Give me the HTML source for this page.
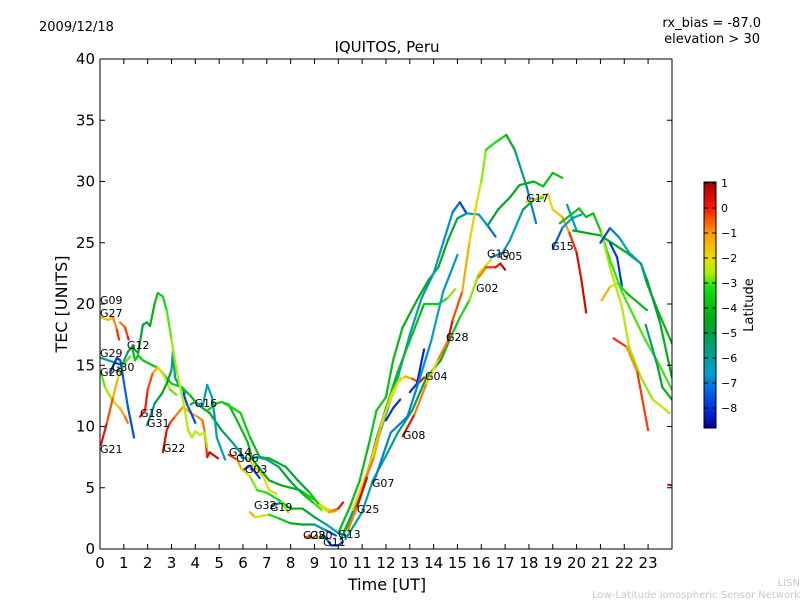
<!DOCTYPE html>
<html><head><meta charset="utf-8"><style>
body{margin:0;background:#fff;}
svg{display:block;font-family:"DejaVu Sans","Liberation Sans",sans-serif;}
</style></head><body>
<svg id="chart" width="800" height="600" viewBox="0 0 800 600">
<defs>
<linearGradient id="cmap" x1="0" y1="0" x2="0" y2="1">
<stop offset="0" stop-color="#a00000"/><stop offset="0.107" stop-color="#ff1a00"/>
<stop offset="0.208" stop-color="#ff9a00"/><stop offset="0.310" stop-color="#e8e000"/>
<stop offset="0.371" stop-color="#a8f000"/><stop offset="0.432" stop-color="#10e010"/>
<stop offset="0.543" stop-color="#00b010"/><stop offset="0.614" stop-color="#00a040"/>
<stop offset="0.716" stop-color="#00a0a0"/><stop offset="0.777" stop-color="#00a0c8"/>
<stop offset="0.838" stop-color="#0070e0"/><stop offset="0.919" stop-color="#0030e0"/>
<stop offset="1" stop-color="#000090"/>
</linearGradient>
<clipPath id="pc"><rect x="100" y="59" width="572" height="490"/></clipPath>
</defs>
<text x="39" y="31" font-size="13">2009/12/18</text>
<text x="761" y="27" font-size="13" text-anchor="end">rx_bias = -87.0</text>
<text x="760" y="43" font-size="13" text-anchor="end">elevation &gt; 30</text>
<text x="387" y="52" font-size="15" text-anchor="middle">IQUITOS, Peru</text>
<g id="marks" clip-path="url(#pc)"></g>
<g id="labels"></g>
<rect x="100" y="59" width="572" height="490" fill="none" stroke="#000" stroke-width="1"/>
<g id="axes"></g>
<text x="387" y="590" font-size="16" text-anchor="middle">Time [UT]</text>
<text transform="translate(67,304) rotate(-90)" font-size="16" text-anchor="middle">TEC [UNITS]</text>
<rect x="704" y="182" width="12" height="246" fill="url(#cmap)" stroke="#000" stroke-width="1"/>
<g id="cbticks"></g>
<text transform="translate(753,305) rotate(-90)" font-size="13" text-anchor="middle">Latitude</text>
<text x="800" y="586" font-size="10" fill="#c8c8c8" text-anchor="end">LISN</text>
<text x="800" y="598" font-size="10" fill="#c8c8c8" text-anchor="end">Low-Latitude Ionospheric Sensor Network</text>
</svg>
<script>
const xTicks=[0,1,2,3,4,5,6,7,8,9,10,11,12,13,14,15,16,17,18,19,20,21,22,23];
const yTicks=[0,5,10,15,20,25,30,35,40];
const cbTicks=[1,0,-1,-2,-3,-4,-5,-6,-7,-8];
// track points: [hour, TEC, latitude]
const g27=[[0.04,18.9,-1.8],[0.34,18.7,-1.5],[0.55,18.9,-1.2],[0.71,17.9,-0.5],[0.8,17.1,0.3]];
const g09=[[0.84,18.5,-0.8],[1.05,18.1,-0.5],[1.17,17.3,0],[1.2,17.1,0.3]];
const g29=[[0.04,15.6,-6],[0.5,15.3,-6.2],[0.92,15,-6],[1.17,16.1,-5.5],[1.34,16.5,-4],[1.47,15.4,-3.8],[1.6,15.8,-3.8],[1.8,15.4,-3.8],[2.2,15,-3.7],[2.43,14.8,-3.8],[3.0,13.5,-3.8],[3.44,13.2,-3.5],[3.8,12.5,-4],[4.1,11.8,-4.2],[4.6,11.1,-4.5],[5.1,9.7,-5],[5.6,8.6,-5.8],[6.0,7.6,-6.5]];
const g12=[[1.34,16.5,-4.5],[1.6,16,-4.5],[1.8,18.3,-4.8],[1.97,18.5,-4.5],[2.1,18.2,-4.5],[2.3,20.1,-4],[2.43,20.9,-3.8],[2.64,20.6,-3.5],[2.8,19.5,-3.2],[3.0,17.1,-2.7],[3.23,14.4,-2.6],[3.48,12.2,-2.5],[3.7,9.7,-2.5],[3.86,9.1,-2.6],[4.0,9.6,-2.4],[4.2,9.3,-2.3],[4.4,9.5,-2.5],[4.5,8.3,-2.6]];
const g26=[[0.04,14.4,-3],[0.21,13.2,-2.8],[0.5,12.2,-2.5],[0.63,11.9,-2],[0.84,11.5,-1.5],[1.05,10.8,-0.8],[1.17,10.3,-0.5]];
const g21=[[0.04,8.5,0.5],[0.29,10.3,0],[0.55,12.4,-0.8],[0.76,14,-1.8],[1.05,15.2,-2.6],[1.26,15.7,-3.2]];
const g30=[[0.42,14.4,-8],[0.71,15.6,-8],[0.85,15.4,-7.8],[0.97,14,-7.5],[1.17,11.6,-7.2],[1.43,9.1,-8]];
const g18=[[1.68,10.8,0.5],[1.89,11.3,0.2],[2.0,13,0],[2.22,14.4,-0.7],[2.43,14.8,-1.6],[2.73,14,-2.4],[2.94,13,-2.8],[3.2,12.6,-3]];
const g31=[[1.97,10.1,-6.5],[2.3,11.9,-5.5],[2.6,12.7,-4.5],[2.8,13.5,-4.5],[3.0,14.6,-5.5],[3.06,16.1,-6],[3.15,14,-6],[3.27,13.5,-6],[3.57,12.7,-6.5]];
const g22=[[2.64,7.9,0.5],[2.8,9.7,0.3],[2.94,10.3,0],[3.15,10.8,-0.5],[3.44,11.5,-1],[3.5,11.6,-1],[3.8,11.1,-1.3],[4.1,10.8,-1],[4.3,10.5,-0.8],[4.4,9.5,-0.5],[4.5,7.5,0.3],[4.6,7.9,0.5],[4.95,7.4,0.5]];
const g16b=[[3.5,12.7,-8],[3.65,11.8,-7.6],[3.8,11.2,-7.4],[4.0,10.3,-8]];
const g16t=[[3.8,11.8,-6],[4.0,12,-6],[4.3,11.6,-6],[4.5,13.4,-6.5],[4.7,12.4,-6.5],[4.8,11,-6],[4.9,9.1,-6],[5.25,7.3,-7]];
const g16=[[4.5,11.3,-4],[4.9,11.9,-3.5],[5.1,12,-3.5],[5.4,11.8,-4],[5.75,10.5,-4],[6.2,8.7,-4],[6.4,7.3,-4.3],[7.1,5.6,-4.5],[7.6,5.2,-4.5],[8.4,4.8,-4.3],[9.0,4.0,-3],[9.4,3.4,-2],[9.7,3.1,-1.2],[10.0,3.3,0],[10.2,3.8,0.5]];
const g16c=[[5.1,12,-3.5],[5.5,11.6,-3.3],[5.9,11.1,-3.5],[6.3,9.1,-3.8],[6.7,7.5,-4.2],[7.1,7.4,-4.5],[7.8,6.7,-4.8],[8.3,5.6,-4.8],[8.8,4.6,-4.5],[9.2,3.6,-3],[9.6,3.0,-1.5],[9.9,3.1,-0.5]];
const g06=[[5.9,7.6,-7.5],[6.2,7.3,-6.5],[6.6,7.5,-6.3],[7.0,7.3,-6],[7.5,6.7,-5],[8.0,5.5,-5],[8.5,4.5,-4.5],[9.0,3.7,-3.5],[9.3,3.2,-2.5]];
const g14=[[5.4,7.7,0.5],[5.75,7.3,-0.8],[5.95,6.5,-1.5],[6.3,5.9,-2.5],[6.6,4.8,-3],[7.0,4.6,-3.2],[7.5,4.0,-3.5],[8.0,3.3,-4],[8.5,3.3,-4.5],[9.0,2.6,-5],[9.5,2.0,-6],[10.0,1.3,-7],[10.3,1.1,-8]];
const g06y=[[6.2,7.4,-1.5],[6.85,5.9,-1.8],[7.1,4.8,-2],[7.4,4.5,-2.5]];
const g32=[[6.3,3.0,-1],[6.5,2.6,-1.5],[7.1,2.8,-3],[7.5,2.5,-3.5],[8.0,2.1,-4],[8.5,2.0,-4.5],[9.0,2.0,-5],[9.5,1.5,-7],[9.9,1.1,-8]];
const g03=[[6.05,6.5,-8],[6.3,6.8,-7.5],[6.7,5.8,-8]];
const g19=[[7.2,3.5,-8],[7.6,3.8,-6],[7.9,3.0,0.5]];
const g28a=[[8.6,1.0,0.5],[9.0,0.9,-1],[9.3,1.0,-3],[9.5,0.9,-5]];
const g11=[[9.4,1.1,-7],[9.7,0.3,-8],[10.0,0.3,-8.5],[10.2,0.6,-7]];
const r1=[[10.0,1.3,-4],[10.5,3.5,-4],[10.9,5.6,-4],[11.3,8.7,-4],[11.6,11.3,-3.5],[12.0,12.4,-4],[12.3,15.4,-4],[12.7,18.1,-4],[13.3,20.3,-4.5],[13.8,22,-4.5],[14.2,23,-4.5],[14.6,25.2,-4.5],[15.0,27.0,-5],[15.4,27.4,-6],[15.9,27.3,-6.5],[16.3,26.3,-7],[16.6,25.5,-7.5]];
const r2=[[10.1,0.8,-6],[10.6,3,-6],[11.0,5,-6],[11.5,8,-6],[12.0,11,-6.5],[12.5,14,-6.5],[13.0,17.5,-6.5],[13.5,20.5,-6],[14.0,22.5,-6],[14.4,25,-6.5],[14.8,27.5,-7],[15.1,28.3,-7.5],[15.35,27.5,-8]];
const r3=[[10.2,1.2,-4],[10.7,3,-4],[11.2,6,-4.5],[11.6,9,-4.5],[12.0,11.5,-4],[12.5,14.5,-4],[13.0,17,-4],[13.6,20,-4],[14.2,20,-3.5],[14.6,20.5,-3],[14.9,21.2,-2.5]];
const g04=[[10.6,3.2,-2],[11.3,6.7,-1.8],[11.9,10.8,-2],[12.2,12.2,-2.2],[12.5,13.6,-2.5],[12.8,14.1,-1.5],[13.1,13.9,-1],[13.4,13.6,0.3],[13.6,14.0,0.5]];
const g07=[[10.4,1.5,-1],[10.8,3.5,-0.5],[11.2,6,-0.5],[11.5,7.5,-1],[11.8,10,-1.5],[12.2,12.5,-2],[12.6,14,-2.5]];
const g07r=[[10.8,3.5,0.5],[11.2,5.8,0.8]];
const g25=[[10.3,0.8,-6],[11.0,3,-6],[11.45,5.6,-6],[12.0,7.6,-6],[12.5,9.5,-5.5],[13.1,11.3,-5.5],[13.7,14,-5],[14.3,15.4,-4.5],[14.7,17.2,-4],[15.1,18.9,-3.5],[15.5,20.3,-3],[15.9,22.5,-2.5],[16.4,23.6,-2]];
const gb1=[[12.0,10.5,-8],[12.3,11.5,-8],[12.6,12.2,-8]];
const gb2=[[13.0,12.8,-8],[13.3,13.5,-8],[13.6,16.3,-8.3]];
const gc=[[11.5,5.5,-7],[12.2,9.5,-7],[12.9,10.8,-7],[13.4,13.8,-7],[13.9,17,-6.5],[14.4,21,-6.5],[15.0,24,-7]];
const g08=[[12.7,9.2,0.5],[13.2,11,0],[13.7,13.5,-1.5],[14.2,15.5,-2],[14.6,17,0.5]];
const g17p=[[14.6,17,0.5],[14.8,18.7,0.3],[15.2,21,-1],[15.5,25,-1.5],[15.8,28.2,-2],[16.0,30,-2.5],[16.2,32.6,-3],[16.6,33.2,-3.3],[17.05,33.8,-3.5],[17.4,32.6,-5],[17.9,29.6,-6.5],[18.3,26.6,-7.5]];
const g02=[[15.9,22.2,-1],[16.2,23,-0.5],[16.6,23,0],[16.8,23.3,0.5],[17.0,22.8,0.8]];
const g05=[[16.4,23.8,-7],[16.9,24.2,-6.5],[17.2,25.2,-6.5],[17.75,27.7,-6],[18.2,28.5,-4.5],[18.6,28.7,-2.5]];
const g10=[[16.3,26.5,-5],[16.7,27.7,-5],[17.2,28.7,-4.5],[17.6,29.7,-4.5],[18.2,30.0,-4],[18.6,29.6,-4],[19.0,30.7,-4],[19.4,30.3,-4]];
const g17=[[17.9,28.3,-1.5],[18.8,29,-2],[19.0,27.7,-1.8],[19.4,27.1,-1.5],[19.7,25.8,-0.5],[20.0,24.2,0.3],[20.2,22,0.5],[20.4,19.3,0.6]];
const g15=[[19.0,24.5,-8],[19.4,26.2,-6.8],[19.8,27,-6.5],[20.2,27.3,-6.5]];
const g15t=[[19.6,28.1,-6],[20.0,26,-6]];
const n1=[[19.3,26.6,-4],[20.1,27.8,-3.8],[20.4,27.1,-4],[20.7,27.4,-4],[21.0,26,-3.5],[21.4,23.6,-3.2],[21.9,21,-3],[22.4,19,-3],[22.9,17,-3],[23.4,15.3,-3],[24,13,-3]];
const n2=[[19.85,26,-4.5],[21.0,25.6,-4.5],[22.1,24.2,-4.5],[22.7,23.3,-4.5],[22.95,21.7,-4.5],[23.4,19.5,-4.3],[24,16.8,-4]];
const n3=[[21.05,25.8,-2.8],[21.4,23,-2.6],[21.9,19.8,-2.4],[22.2,16.5,-2.6],[22.7,14,-2.8],[23.2,12.2,-2.6],[23.9,11.1,-2.4]];
const n4=[[21.0,25,-8],[21.4,26.2,-7.5],[21.8,25.4,-6.5],[22.2,24.2,-6.3],[22.7,23.3,-6.3],[22.95,22,-5.5],[23.5,18.5,-4.5],[24,14,-4]];
const n5=[[21.4,25,-8],[21.7,23.8,-7.8],[21.9,21.5,-8]];
const n6=[[21.05,20.3,-0.8],[21.4,21.4,-1.8],[21.75,21.7,-2.8],[22.1,20.9,-3.5],[22.95,19.5,-4.5]];
const n7=[[21.55,17.2,0.5],[22.1,16.5,-0.8],[22.55,14.4,-1],[23.0,9.7,0.5]];
const n8=[[22.9,18.3,-6],[23.4,14.9,-5],[23.6,13.2,-4.5],[24,12.2,-4.3]];
const n9=[[23.85,5.25,0.6],[24,5.2,0.6]];
const tracks=[g27,g09,g29,g26,g21,g30,g18,g31,g22,g16b,g16t,g16,g16c,g06,g14,g06y,g32,g03,g19,g28a,g11,r1,r2,r3,g04,g07,g07r,g25,gb1,gb2,gc,g08,g17p,g02,g05,g10,g17,g15,g15t,n1,n2,n3,n4,n5,n6,n7,n8,n9,g12];
const labelNames=["G09","G27","G12","G29","G30","G26","G18","G31","G16","G21","G22","G14","G06","G03","G32","G19","G28","G20","G11","G13","G25","G07","G08","G04","G28","G02","G10","G05","G17","G15"];
const labelT=[0,0,1.13,0,0.5,0,1.68,1.97,3.97,0,2.64,5.41,5.71,6.08,6.46,7.13,8.52,8.81,9.36,9.99,10.78,11.41,12.71,13.64,14.52,15.78,16.24,16.78,17.88,18.93];
const labelV=[20.0,18.94,16.33,15.67,14.53,14.12,10.78,9.96,11.59,7.84,7.92,7.59,7.1,6.2,3.27,3.1,0.82,0.82,0.24,0.9,2.94,5.06,8.98,13.8,16.98,21.0,23.8,23.6,28.33,24.41];

const NS="http://www.w3.org/2000/svg";
const X0=100,XW=23.83,Y0=549,YH=12.25;
function xs(t){return X0+t*XW;}
function ys(v){return Y0-v*YH;}
function cbY(l){return 208-25*l;}
const cst=[[1.05,[160,0,0]],[0,[255,26,0]],[-1,[255,154,0]],[-2,[232,224,0]],[-2.6,[168,240,0]],[-3.2,[16,224,16]],[-4.3,[0,176,16]],[-5,[0,160,64]],[-6,[0,160,160]],[-6.6,[0,160,200]],[-7.2,[0,112,224]],[-8,[0,48,224]],[-8.8,[0,0,144]]];
function cmap(l){
 if(l>=cst[0][0])return 'rgb('+cst[0][1]+')';
 for(let i=0;i<cst.length-1;i++){const a=cst[i],b=cst[i+1];
  if(l<=a[0]&&l>=b[0]){const f=(a[0]-l)/(a[0]-b[0]);
   return 'rgb('+a[1].map((c,k)=>Math.round(c+(b[1][k]-c)*f)).join(',')+')';}}
 return 'rgb(0,0,144)';
}
const marks=document.getElementById('marks');
tracks.forEach((tr,ti)=>{
 for(let i=0;i<tr.length-1;i++){
  const p=tr[i],q=tr[i+1];
  const ln=document.createElementNS(NS,'line');
  ln.setAttribute('x1',xs(p[0]));ln.setAttribute('y1',ys(p[1]));
  ln.setAttribute('x2',xs(q[0]));ln.setAttribute('y2',ys(q[1]));
  ln.setAttribute('stroke',cmap((p[2]+q[2])/2));
  ln.setAttribute('stroke-width','2.2');ln.setAttribute('stroke-linecap','round');
  
  
  marks.appendChild(ln);
 }
});
const lg=document.getElementById('labels');
labelNames.forEach((n,i)=>{
 const t=document.createElementNS(NS,'text');
 t.setAttribute('x',xs(labelT[i]));t.setAttribute('y',ys(labelV[i]));
 t.setAttribute('font-size','11');t.textContent=n;
 
 
 lg.appendChild(t);
});
const ax=document.getElementById('axes');
function mk(tag,attrs,txt){const e=document.createElementNS(NS,tag);for(const k in attrs)e.setAttribute(k,attrs[k]);if(txt!==undefined)e.textContent=txt;ax.appendChild(e);return e;}
xTicks.forEach(t=>{
 const x=xs(t);
 const a=mk('line',{x1:x,y1:549,x2:x,y2:544,stroke:'#000'});
 
 
 const b=mk('line',{x1:x,y1:59,x2:x,y2:64,stroke:'#000'});
 
 
 const l=mk('text',{x:x,y:568,'font-size':15,'text-anchor':'middle'},String(t));
 
 
});
yTicks.forEach(v=>{
 const y=ys(v);
 const a=mk('line',{x1:100,y1:y,x2:105,y2:y,stroke:'#000'});
 
 
 const b=mk('line',{x1:672,y1:y,x2:667,y2:y,stroke:'#000'});
 
 
 const l=mk('text',{x:95,y:y+5,'font-size':15,'text-anchor':'end'},String(v));
 
 
});
const cb=document.getElementById('cbticks');
cbTicks.forEach(v=>{
 const y=cbY(v);
 const a=document.createElementNS(NS,'line');
 a.setAttribute('x1',704);a.setAttribute('x2',708);a.setAttribute('y1',y);a.setAttribute('y2',y);a.setAttribute('stroke','#000');
 
 
 cb.appendChild(a);
 const b=document.createElementNS(NS,'line');
 b.setAttribute('x1',712);b.setAttribute('x2',716);b.setAttribute('y1',y);b.setAttribute('y2',y);b.setAttribute('stroke','#000');
 
 
 cb.appendChild(b);
 const t=document.createElementNS(NS,'text');
 t.setAttribute('x',721);t.setAttribute('y',y+4);t.setAttribute('font-size','11');
 t.textContent=v<0?'\u2212'+Math.abs(v):String(v);
 
 
 cb.appendChild(t);
});
</script>
</body></html>
